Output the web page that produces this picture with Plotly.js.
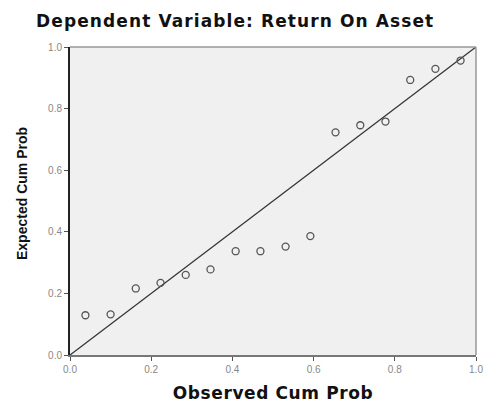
<!DOCTYPE html>
<html>
<head>
<meta charset="utf-8">
<script src="https://cdn.plot.ly/plotly-3.0.1.min.js"></script>
<style>html,body{margin:0;padding:0;background:#fff;}#chart{width:485px;height:403px;}</style>
</head>
<body>
<div id="chart"></div>
<script>
const observedCumProb = [0.038, 0.100, 0.162, 0.223, 0.285, 0.346, 0.408, 0.469, 0.531, 0.592, 0.654, 0.715, 0.777, 0.838, 0.900, 0.962];
const expectedCumProb = [0.129, 0.132, 0.216, 0.234, 0.260, 0.278, 0.337, 0.337, 0.352, 0.386, 0.723, 0.746, 0.758, 0.893, 0.929, 0.956];
const refLineX = [0, 1];
const refLineY = [0, 1];
const tickVals = [0, 0.2, 0.4, 0.6, 0.8, 1.0];
const tickText = ["0.0", "0.2", "0.4", "0.6", "0.8", "1.0"];

const traces = [
  {x: refLineX, y: refLineY, mode: 'lines', line: {color: '#333', width: 1.3}, hoverinfo: 'skip', showlegend: false},
  {x: observedCumProb, y: expectedCumProb, mode: 'markers', marker: {symbol: 'circle-open', size: 7, color: '#555', line: {width: 1.3, color: '#555'}}, showlegend: false}
];

const axisCommon = {
  range: [0, 1], tickvals: tickVals, ticktext: tickText, showgrid: false, zeroline: false,
  ticks: 'outside', ticklen: 4, tickcolor: '#555', tickwidth: 1,
  tickfont: {family: 'Liberation Sans, Arial, sans-serif', size: 10, color: '#888'},
  showline: true, mirror: false, fixedrange: true
};

const layout = {
  width: 485, height: 403,
  margin: {l: 70, r: 9, t: 47, b: 48},
  paper_bgcolor: '#ffffff', plot_bgcolor: '#f0f0f0',
  title: {text: '<b>Dependent Variable: Return On Asset</b>', x: 0.485, xanchor: 'center', y: 0.947, yanchor: 'middle',
    font: {family: 'DejaVu Sans, sans-serif', size: 17, color: '#111'}},
  xaxis: Object.assign({}, axisCommon, {linecolor: '#777', linewidth: 2,
    title: {text: '<b>Observed Cum Prob</b>', standoff: 14, font: {family: 'DejaVu Sans, sans-serif', size: 17, color: '#111'}}}),
  yaxis: Object.assign({}, axisCommon, {linecolor: '#222', linewidth: 2}),
  annotations: [
    {text: '<b>Expected Cum Prob</b>', xref: 'paper', yref: 'paper', x: -0.118, y: 0.523, xanchor: 'center', yanchor: 'middle',
      textangle: -90, showarrow: false, font: {family: 'Liberation Sans, Arial, sans-serif', size: 14, color: '#111'}}
  ],
  shapes: [
    {type: 'line', xref: 'paper', yref: 'paper', x0: 0, x1: 1, y0: 1, y1: 1, line: {color: '#999', width: 1.5}},
    {type: 'line', xref: 'paper', yref: 'paper', x0: 1, x1: 1, y0: 0, y1: 1, line: {color: '#999', width: 1.5}}
  ]
};

Plotly.newPlot('chart', traces, layout, {displayModeBar: false, staticPlot: true}).then(function () {
  document.querySelectorAll('.gtitle').forEach(function (el) { el.style.letterSpacing = '1.1px'; });
  document.querySelectorAll('.xtitle').forEach(function (el) { el.style.letterSpacing = '0.6px'; });
});
</script>
</body>
</html>
